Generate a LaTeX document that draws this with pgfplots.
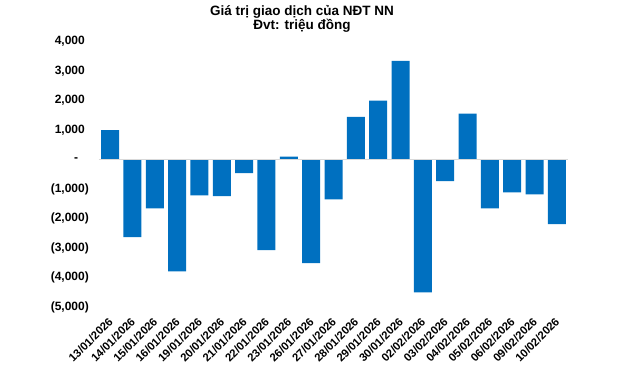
\documentclass[border=0pt]{standalone}
\usepackage{pgfplots}
\pgfplotsset{compat=1.18}
\usepackage{fontspec}
\setmainfont{Liberation Sans}
\definecolor{barblue}{HTML}{0070C0}
\definecolor{zerogray}{HTML}{D9D9D9}
\pgfplotstableread{
x val
0 1000
1 -2630
2 -1650
3 -3790
4 -1210
5 -1240
6 -460
7 -3070
8 100
9 -3510
10 -1350
11 1450
12 2000
13 3350
14 -4500
15 -730
16 1560
17 -1650
18 -1110
19 -1180
20 -2190
}\datatable
\begin{document}
\begin{tikzpicture}
\useasboundingbox (-99pt,-60pt) rectangle (541pt,307pt);
\begin{axis}[
  at={(0pt,0pt)}, anchor=south west,
  scale only axis, width=469pt, height=265.3pt,
  xmin=-0.5, xmax=20.5, ymin=-5000, ymax=4000,
  axis line style={draw=none},
  major tick length=0pt,
  ytick={-5000,-4000,...,4000},
  yticklabels={{(5,000)},{(4,000)},{(3,000)},{(2,000)},{(1,000)},{-\hphantom{0)}},{1,000\hphantom{)}},{2,000\hphantom{)}},{3,000\hphantom{)}},{4,000\hphantom{)}}},
  yticklabel style={anchor=east, inner sep=0pt, xshift=-10pt, font=\bfseries\fontsize{12}{14}\selectfont},
  xtick={0,...,20},
  xticklabels={13/01/2026,14/01/2026,15/01/2026,16/01/2026,19/01/2026,20/01/2026,21/01/2026,22/01/2026,23/01/2026,26/01/2026,27/01/2026,28/01/2026,29/01/2026,30/01/2026,02/02/2026,03/02/2026,04/02/2026,05/02/2026,06/02/2026,09/02/2026,10/02/2026},
  xticklabel style={xshift=-2.5pt, yshift=-9.5pt, rotate=45, anchor=north east, inner sep=0pt, font=\bfseries\fontsize{11.3}{13}\selectfont},
  ybar, bar width=18pt, bar shift=0pt,
]
\addplot[fill=barblue, draw=none] table[x=x, y=val] {\datatable};
\draw[zerogray, line width=1pt] (axis cs:-0.5,0) -- (axis cs:20.5,0);
\end{axis}
\node[font=\bfseries\fontsize{13.5}{14}\selectfont, align=center] at (203pt,288pt) {Giá trị giao dịch của NĐT NN\\Đvt: triệu đồng};
\end{tikzpicture}
\end{document}
